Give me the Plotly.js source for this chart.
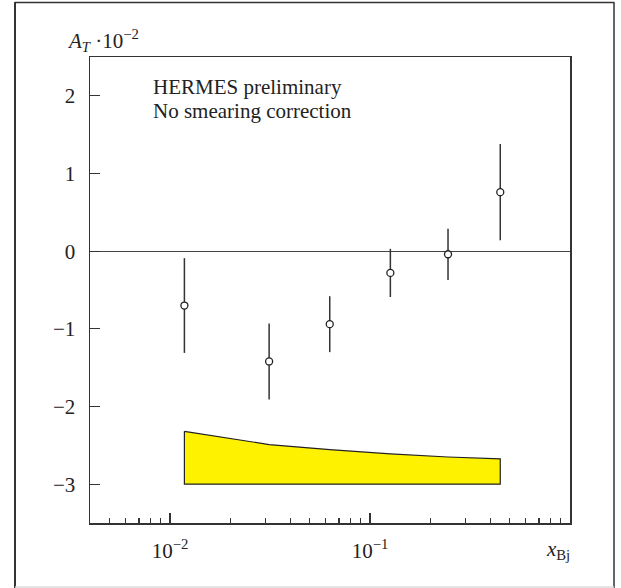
<!DOCTYPE html>
<html>
<head>
<meta charset="utf-8">
<script src="https://cdn.plot.ly/plotly-3.0.1.min.js"></script>
<style>html,body{margin:0;padding:0;background:#fff;}#chart{width:621px;height:588px;}</style>
</head>
<body>
<div id="chart"></div>
<script>
// Data
const xBj = [0.0118, 0.0313, 0.0629, 0.1264, 0.2455, 0.448];
const AT = [-0.70, -1.42, -0.94, -0.28, -0.04, 0.76];
const ATerr = [0.61, 0.49, 0.36, 0.31, 0.33, 0.62];
const bandTop = [-2.32, -2.49, -2.555, -2.61, -2.65, -2.675];
const bandBottom = [-3.0, -3.0, -3.0, -3.0, -3.0, -3.0];
const xTickVals = [0.01, 0.1];
const xTickText = ['10<sup>\u22122</sup>', '10<sup>\u22121</sup>'];
const yTickVals = [-3, -2, -1, 0, 1, 2];

const minorVals = [];
for (let d = -3; d <= -1; d++) {
  for (let k = 2; k <= 9; k++) minorVals.push(k * Math.pow(10, d));
}
minorVals.push(1);

const band = {
  x: xBj.concat(xBj.slice().reverse(), [xBj[0]]),
  y: bandTop.concat(bandBottom.slice().reverse(), [bandTop[0]]),
  mode: 'lines', fill: 'toself', fillcolor: '#FFF200',
  line: {color: '#222', width: 1.2}, hoverinfo: 'skip', showlegend: false
};
const pts = {
  x: xBj, y: AT, mode: 'markers', showlegend: false,
  marker: {symbol: 'circle', size: 7, color: '#fff', line: {color: '#222', width: 1.3}},
  error_y: {type: 'data', array: ATerr, visible: true, width: 0, thickness: 1.5, color: '#333'}
};

const serif = '"Liberation Serif", "Times New Roman", Times, serif';
const W = 480, H = 466, L = 90, T = 57;
const px = v => (v - L) / W;
const py = v => (T + H - v) / H;
const FS = 21;

const layout = {
  width: 621, height: 588,
  margin: {l: L, r: 621 - L - W, t: T, b: 588 - T - H, pad: 0},
  paper_bgcolor: '#fff', plot_bgcolor: '#fff',
  font: {family: serif, size: FS, color: '#222'},
  showlegend: false,
  xaxis: {
    type: 'log', range: [Math.log10(0.00398), 0],
    tickmode: 'array', tickvals: xTickVals, ticktext: xTickText,
    ticks: 'inside', ticklen: 10, tickwidth: 1.2, tickcolor: '#333',
    minor: {tickmode: 'array', tickvals: minorVals, ticks: 'inside', ticklen: 5, tickwidth: 1.2, tickcolor: '#333'},
    showline: true, linecolor: '#333', linewidth: 1.5, mirror: true,
    showgrid: false, zeroline: false, ticklabelstandoff: 8,
    tickfont: {family: serif, size: FS, color: '#222'}
  },
  yaxis: {
    range: [-3.5, 2.5], tickmode: 'array', tickvals: yTickVals,
    ticks: 'inside', ticklen: 10, tickwidth: 1.2, tickcolor: '#333',
    showline: true, linecolor: '#333', linewidth: 1.5, mirror: true,
    showgrid: false, zeroline: true, zerolinecolor: '#444', zerolinewidth: 1.2,
    ticklabelstandoff: 9,
    tickfont: {family: serif, size: FS, color: '#222'}
  },
  shapes: [
    {type: 'line', xref: 'paper', yref: 'paper', x0: px(15), x1: px(15), y0: py(2), y1: py(590), line: {color: '#333', width: 2}},
    {type: 'line', xref: 'paper', yref: 'paper', x0: px(15), x1: px(614), y0: py(2.5), y1: py(2.5), line: {color: '#333', width: 1.5}},
    {type: 'line', xref: 'paper', yref: 'paper', x0: px(614), x1: px(614), y0: py(2), y1: py(590), line: {color: '#333', width: 1.5}},
    {type: 'line', xref: 'paper', yref: 'paper', x0: px(15), x1: px(614), y0: py(587), y1: py(587), line: {color: '#ddd', width: 1.5}}
  ],
  annotations: [
    {xref: 'paper', yref: 'paper', x: px(151), y: py(87), xanchor: 'left', yanchor: 'middle', showarrow: false,
     text: 'HERMES preliminary', font: {family: serif, size: FS, color: '#222'}},
    {xref: 'paper', yref: 'paper', x: px(151), y: py(111), xanchor: 'left', yanchor: 'middle', showarrow: false,
     text: 'No smearing correction', font: {family: serif, size: FS, color: '#222'}},
    {xref: 'paper', yref: 'paper', x: px(65), y: py(40), xanchor: 'left', yanchor: 'middle', showarrow: false,
     text: '<i>A</i><sub><i>T</i></sub> \u00b710<sup>\u22122</sup>', font: {family: serif, size: FS, color: '#222'}},
    {xref: 'paper', yref: 'paper', x: px(544), y: py(550), xanchor: 'left', yanchor: 'middle', showarrow: false,
     text: '<i>x</i><sub>Bj</sub>', font: {family: serif, size: FS, color: '#222'}}
  ]
};

Plotly.newPlot('chart', [band, pts], layout, {staticPlot: true, displayModeBar: false});
</script>
</body>
</html>
